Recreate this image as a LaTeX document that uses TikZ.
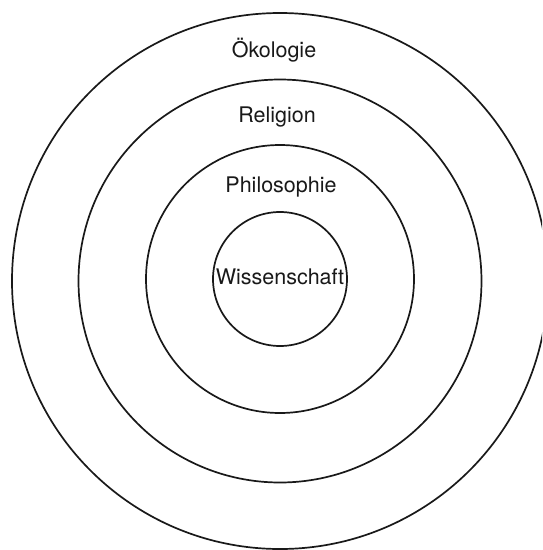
\documentclass[tikz,border=0pt]{standalone}
\usepackage{fontspec}
\setmainfont{TeX Gyre Heros}
\begin{document}
\begin{tikzpicture}[x=1pt,y=-1pt,
  ring/.style={circle,draw=black!90,line width=1.7pt,inner sep=0pt,minimum size=#1},
  lbl/.style={font=\fontsize{21.5}{26}\selectfont,inner sep=0pt,text=black!90}]
\useasboundingbox (0,0) rectangle (542,550);
\clip (0,0) rectangle (542,550);
\fill[white] (0,0) rectangle (542,550);
\node[ring=536pt] (oeko) at (280,281) {};
\node[ring=403pt] (rel) at (280,281) {};
\node[ring=268pt] (phil) at (280,279) {};
\node[ring=134pt] (wiss) at (280,279) {};
\node[lbl] (toeko) at (274,50) {Ökologie};
\node[lbl] (trel) at (277,117) {Religion};
\node[lbl] (tphil) at (281,187) {Philosophie};
\node[lbl] (twiss) at (280,277) {Wissenschaft};
\end{tikzpicture}
\end{document}
